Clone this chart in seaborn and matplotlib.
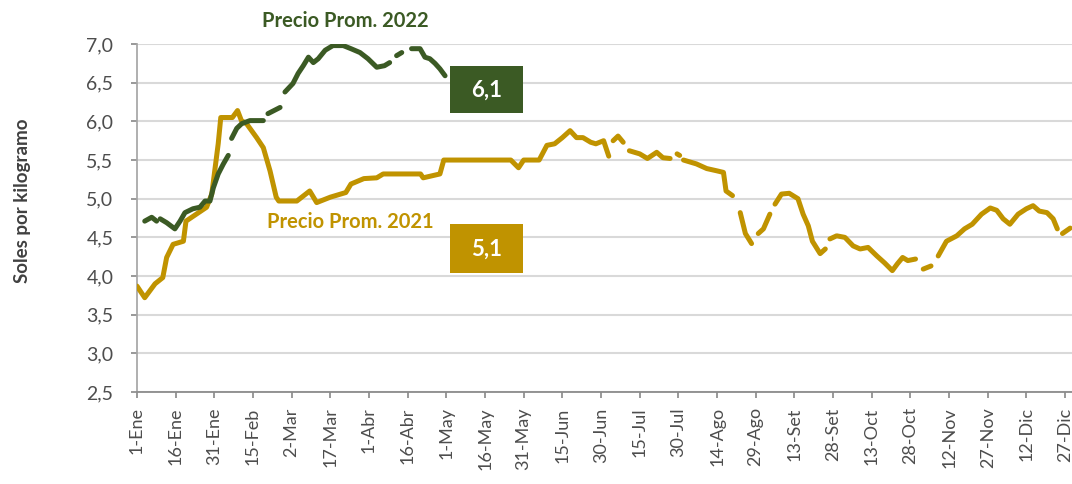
import matplotlib
matplotlib.use("Agg")
import matplotlib.pyplot as plt
import matplotlib.patches as patches
from matplotlib.ticker import FuncFormatter, MultipleLocator
import numpy as np
import seaborn as sns

NAN = np.nan

# Day of year (0 = 1-Ene) and price in soles/kg; NaN marks gaps in the series
days_2021 = [0, 3, 7, 10, 11.5, 14, 18, 19, 23, 27, 29, 31.5, 32.5, 37, 39, 40.5, 42.5, 46.4, 49,
             51.6, 54, 55, 62, 67, 69.7, 75, 81, 83, 88, 93, 95.5, 110, 111, 117.5, 119, 145, 148,
             150, 156, 159, 162, 165, 168, 170.5, 173, 176, 178, 181, 183, 183.8, 184.7, 186.6,
             188.6, 190, 191, 195, 198, 201.6, 204, 206.8, 208, 209.5, 210.5, 211.3, 212, 213,
             217, 221, 225, 227.5, 228.5, 231, 232.5, 234, 236, 238.4, 239.7, 241, 243, 245.5,
             246.5, 247.5, 250, 253, 256.4, 258.4, 260.4, 262, 265, 267, 268, 268.8, 271.4,
             274.6, 277.8, 280.5, 283.6, 287, 290, 293, 295, 297, 299, 302, 303.5, 305, 308,
             309.4, 310.8, 314, 318, 321, 324, 327.6, 331, 333.5, 336, 338.6, 341.8, 345, 347.6,
             350, 353, 355.4, 357, 358, 359, 362]
price_2021 = [3.87, 3.72, 3.90, 3.98, 4.24, 4.41, 4.45, 4.71, 4.80, 4.89, 5.06, 5.71, 6.05, 6.05,
              6.14, 6.01, 5.97, 5.79, 5.66, 5.36, 5.02, 4.97, 4.97, 5.10, 4.95, 5.02, 5.08, 5.19,
              5.26, 5.27, 5.32, 5.32, 5.27, 5.32, 5.50, 5.50, 5.40, 5.50, 5.50, 5.69, 5.71, 5.79,
              5.88, 5.79, 5.79, 5.73, 5.71, 5.75, 5.55, NAN, 5.75, 5.81, 5.73, NAN, 5.62, 5.58,
              5.52, 5.60, 5.53, 5.52, NAN, 5.58, 5.56, NAN, 5.50, 5.49, 5.45, 5.39, 5.36, 5.34,
              5.10, 5.04, NAN, 4.82, 4.55, 4.42, NAN, 4.55, 4.61, 4.80, NAN, 4.93, 5.06, 5.07,
              5.00, 4.80, 4.65, 4.45, 4.29, 4.35, NAN, 4.48, 4.52, 4.50, 4.39, 4.35, 4.37, 4.26,
              4.17, 4.07, 4.16, 4.24, 4.20, 4.22, NAN, 4.09, 4.13, NAN, 4.26, 4.45, 4.52, 4.61,
              4.67, 4.80, 4.88, 4.85, 4.74, 4.67, 4.80, 4.87, 4.91, 4.84, 4.82, 4.74, 4.61, NAN,
              4.55, 4.62]

days_2022 = [3, 5.7, 7.6, 8.3, 9, 11.5, 14.7, 16.7, 18.6, 21.7, 24.4, 26.4, 28.3, 29.6, 31.5,
             33.5, 35.4, 36, 36.7, 38.7, 40.6, 43.8, 49, 50, 50.8, 55.5, 56.5, 57.4, 60.5, 62.5,
             64.5, 66.5, 68.4, 70.3, 73, 76, 80, 83, 86.5, 89.6, 93, 96, 98, 99.4, 100.7, 102.7,
             104.6, 106.5, 109.8, 111.7, 113.6, 115.6, 117.5, 119.5]
price_2022 = [4.71, 4.76, 4.71, NAN, 4.74, 4.69, 4.61, 4.71, 4.82, 4.87, 4.89, 4.97, 4.97, 5.14,
              5.32, 5.45, 5.56, NAN, 5.78, 5.91, 5.97, 6.01, 6.01, NAN, 6.10, 6.18, NAN, 6.38,
              6.49, 6.62, 6.72, 6.83, 6.76, 6.81, 6.92, 6.98, 6.98, 6.94, 6.89, 6.81, 6.70, 6.72,
              6.76, NAN, 6.85, 6.89, NAN, 6.94, 6.94, 6.83, 6.81, 6.75, 6.68, 6.59]

avg_2021 = 5.1
avg_2022 = 6.1

tick_labels = ["1-Ene", "16-Ene", "31-Ene", "15-Feb", "2-Mar", "17-Mar", "1-Abr", "16-Abr",
               "1-May", "16-May", "31-May", "15-Jun", "30-Jun", "15-Jul", "30-Jul", "14-Ago",
               "29-Ago", "13-Set", "28-Set", "13-Oct", "28-Oct", "12-Nov", "27-Nov", "12-Dic",
               "27-Dic"]

GOLD = "#C09300"
GREEN = "#3B5A24"


def segments(x, y):
    # split a series at NaN so gaps stay open
    x = np.asarray(x, dtype=float)
    y = np.asarray(y, dtype=float)
    out, cur = [], []
    for xi, yi in zip(x, y):
        if np.isnan(yi):
            if cur:
                out.append(cur)
            cur = []
        else:
            cur.append((xi, yi))
    if cur:
        out.append(cur)
    return [np.array(s) for s in out]


def comma(v):
    return f"{v:.1f}".replace(".", ",")


sns.set_theme(style="white")
plt.rcParams["font.family"] = ["Lato", "DejaVu Sans"]

fig = plt.figure(figsize=(10.72, 4.84), dpi=100)
ax = fig.add_axes([0.1278, 0.19, 0.8722, 0.719])

for seg in segments(days_2021, price_2021):
    sns.lineplot(x=seg[:, 0], y=seg[:, 1], color=GOLD, linewidth=3.6, ax=ax,
                 solid_capstyle="round", zorder=3)
for seg in segments(days_2022, price_2022):
    sns.lineplot(x=seg[:, 0], y=seg[:, 1], color=GREEN, linewidth=3.6, ax=ax,
                 solid_capstyle="round", zorder=4)

ax.set_xlim(0, 362.7)
ax.set_ylim(2.5, 7.0)
ax.yaxis.set_major_locator(MultipleLocator(0.5))
ax.yaxis.set_major_formatter(FuncFormatter(lambda v, p: comma(v)))
ax.set_xticks(np.arange(len(tick_labels)) * 15)
ax.set_xticklabels(tick_labels, rotation=90, fontsize=13, color="#4d4d4d")
ax.tick_params(axis="y", labelsize=14, colors="#4d4d4d", length=4, color="#8c8c8c",
               direction="out", left=True, pad=13)
ax.tick_params(axis="x", length=4, color="#8c8c8c", direction="out", bottom=True, pad=7)

ax.grid(axis="y", color="#d9d9d9", linewidth=1.5)
ax.set_axisbelow(True)
for side in ["top", "right"]:
    ax.spines[side].set_visible(False)
ax.spines["left"].set_color("#a6a6a6")
ax.spines["bottom"].set_color("#8c8c8c")
ax.spines["bottom"].set_linewidth(1.3)

ax.set_ylabel("Soles por kilogramo", fontsize=13.5, fontweight="bold", color="#404040")
ax.yaxis.set_label_coords(-0.113, 0.55)
ax.set_xlabel("")

# average boxes
ax.add_patch(patches.Rectangle((121.4, 6.113), 28.3, 0.607, facecolor=GREEN,
                               edgecolor="none", zorder=5))
ax.text(135.5, 6.40, comma(avg_2022), color="white", fontsize=16,
        fontweight="bold", ha="center", va="center", zorder=6)
ax.add_patch(patches.Rectangle((121.4, 4.04), 28.3, 0.635, facecolor=GOLD,
                               edgecolor="none", zorder=5))
ax.text(135.5, 4.35, comma(avg_2021), color="white", fontsize=16,
        fontweight="bold", ha="center", va="center", zorder=6)

ax.text(80.7, 7.30, "Precio Prom. 2022", color=GREEN, fontsize=14.5, fontweight="bold",
        ha="center", va="center", clip_on=False)
ax.text(82.6, 4.70, "Precio Prom. 2021", color=GOLD, fontsize=14.5, fontweight="bold",
        ha="center", va="center")

fig.savefig("out.png", dpi=100)
